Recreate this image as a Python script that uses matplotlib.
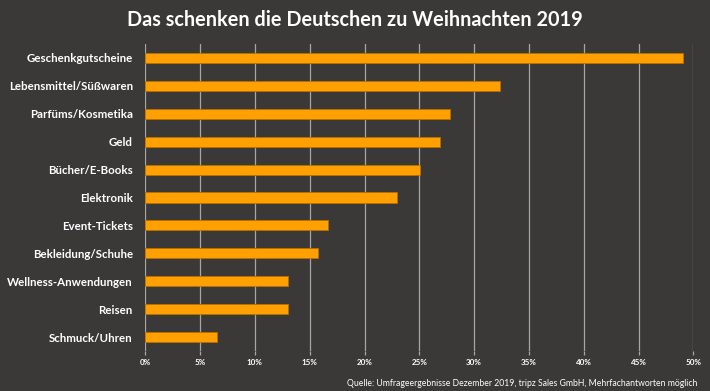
import matplotlib
matplotlib.use("Agg")
import matplotlib.pyplot as plt
import numpy as np

categories = ["Geschenkgutscheine", "Lebensmittel/Süßwaren", "Parfüms/Kosmetika", "Geld",
              "Bücher/E-Books", "Elektronik", "Event-Tickets", "Bekleidung/Schuhe",
              "Wellness-Anwendungen", "Reisen", "Schmuck/Uhren"]
values = [49.1, 32.4, 27.8, 26.9, 25.1, 23.0, 16.7, 15.8, 13.0, 13.0, 6.5]
xticks = [0, 5, 10, 15, 20, 25, 30, 35, 40, 45, 50]
xticklabels = [f"{t}%" for t in xticks]

BG = "#3b3838"
plt.rcParams['font.family'] = ['Lato', 'DejaVu Sans']

fig = plt.figure(figsize=(7.10, 3.91), dpi=100, facecolor=BG)
ax = fig.add_axes([145.3/710, 1-351/391, (693.3-145.3)/710, (351-44)/391])
ax.set_facecolor(BG)

y = np.arange(len(categories))
ax.barh(y, values, height=0.36, color="#ffa000", edgecolor="#b86f00", linewidth=0.6, zorder=3)
ax.set_ylim(len(categories) - 0.5, -0.5)
ax.set_xlim(0, 50)
ax.set_xticks(xticks)
ax.set_xticklabels(xticklabels, color="white", fontsize=5.8, fontweight="bold")
ax.set_yticks(y)
ax.set_yticklabels(categories, color="white", fontsize=8.3, fontweight="bold")
ax.tick_params(axis="y", length=0, pad=9)
ax.tick_params(axis="x", length=3, color="#a6a6a6", width=0.9, pad=3)
ax.grid(axis="x", color="#a6a6a6", linewidth=0.9, zorder=0)
for s in ax.spines.values():
    s.set_visible(False)

fig.text(0.5, 1-20/391, "Das schenken die Deutschen zu Weihnachten 2019", ha="center", va="center",
         color="white", fontsize=14.3, fontweight="bold")
fig.text(697/710, 1-383/391, "Quelle: Umfrageergebnisse Dezember 2019, tripz Sales GmbH, Mehrfachantworten möglich",
         ha="right", va="center", color="white", fontsize=6.2)

fig.savefig("out.png", dpi=100, facecolor=BG)
